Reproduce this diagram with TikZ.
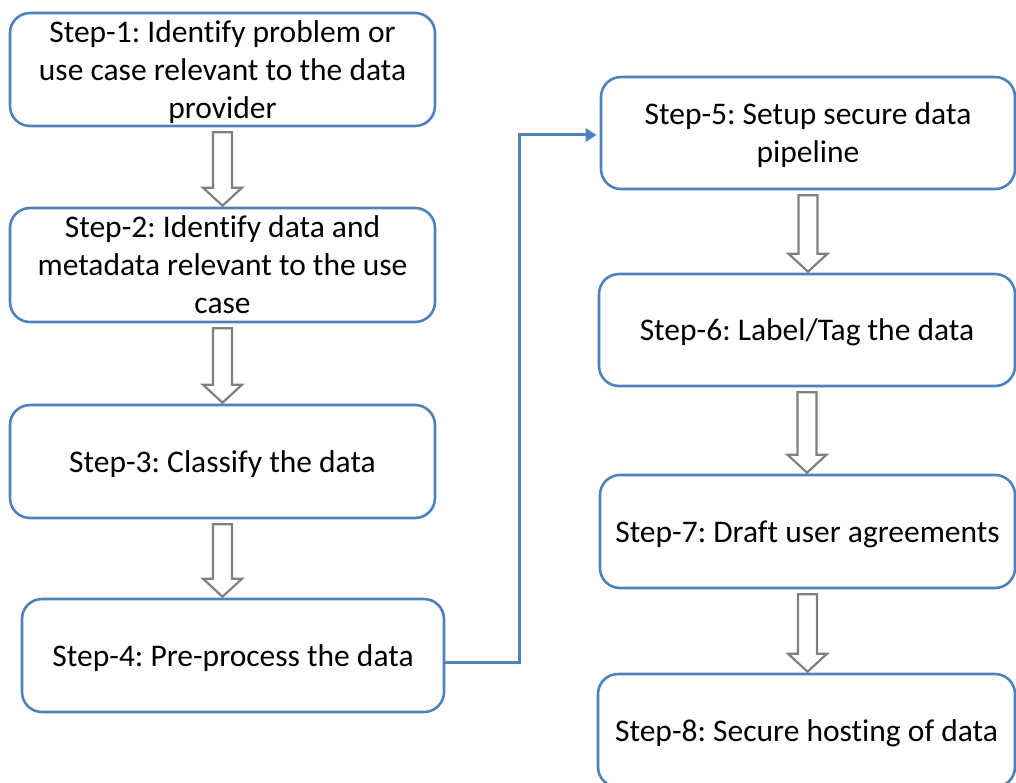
\documentclass[tikz,border=0pt]{standalone}
\usepackage{fontspec}
\setmainfont[Ligatures=NoCommon]{Carlito}
\usetikzlibrary{arrows.meta,calc}
\frenchspacing
\definecolor{boxblue}{RGB}{79,129,189}
\definecolor{arrgray}{RGB}{128,128,128}
\tikzset{
  stepbox/.style={draw=boxblue, line width=2.6pt, rounded corners=20pt, align=center,
    font=\fontsize{31.5}{38}\selectfont, inner sep=0pt, text depth=0pt},
  harrow/.style={draw=arrgray, line width=2.2pt, fill=white, line join=miter},
  conn/.style={draw=boxblue, line width=3pt, -{Triangle[length=11pt,width=13pt]}}
}
\newcommand\harr[2]{\draw[harrow] let \p1=(#1.south), \p2=(#2.north) in
  (\x1-9.5pt,\y1-5pt) -- (\x1+9.5pt,\y1-5pt) -- (\x1+9.5pt,\y2+19pt) -- (\x1+19.5pt,\y2+19pt)
  -- (\x1,\y2+1pt) -- (\x1-19.5pt,\y2+19pt) -- (\x1-9.5pt,\y2+19pt) -- cycle;}
\begin{document}
\begin{tikzpicture}[x=1pt,y=-1pt]
\useasboundingbox (0,0) rectangle (1016,783);
\clip (0,0) rectangle (1016,783);
\node[stepbox, minimum width=425pt, minimum height=113pt] (b1) at (222.5,69.5)
  {Step-1: Identify problem or\\use case relevant to the data\\provider};
\node[stepbox, minimum width=425pt, minimum height=114pt] (b2) at (222.5,265)
  {Step-2: Identify data and\\metadata relevant to the use\\case};
\node[stepbox, minimum width=425pt, minimum height=113pt] (b3) at (222.5,461.5)
  {Step-3: Classify the data};
\node[stepbox, minimum width=422pt, minimum height=113pt] (b4) at (233,655.5)
  {Step-4: Pre-process the data};
\node[stepbox, minimum width=414pt, minimum height=112pt] (b5) at (808,133)
  {Step-5: Setup secure data\\pipeline};
\node[stepbox, minimum width=416pt, minimum height=112pt] (b6) at (807,330)
  {Step-6: Label/Tag the data};
\node[stepbox, minimum width=415pt, minimum height=113pt] (b7) at (807.5,531.5)
  {Step-7: Draft user agreements};
\node[stepbox, minimum width=417pt, minimum height=113pt] (b8) at (806.5,730.5)
  {Step-8: Secure hosting of data};
\harr{b1}{b2}
\harr{b2}{b3}
\harr{b3}{b4}
\harr{b5}{b6}
\harr{b6}{b7}
\harr{b7}{b8}
\draw[conn] ($(b4.east)+(0,7)$) -- ++(74,0) |- ($(b5.west)+(-3,2)$);
\end{tikzpicture}
\end{document}
